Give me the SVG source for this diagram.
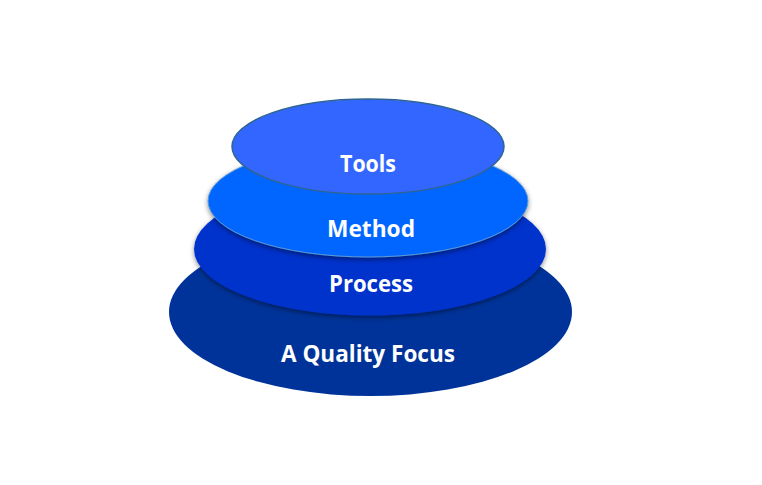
<svg xmlns="http://www.w3.org/2000/svg" width="762" height="485" viewBox="0 0 762 485">
<defs>
<filter id="sh" x="-10%" y="-10%" width="120%" height="130%">
<feGaussianBlur in="SourceAlpha" stdDeviation="2.5"/>
<feOffset dx="0" dy="2" result="b"/>
<feFlood flood-color="#000" flood-opacity="0.45"/>
<feComposite in2="b" operator="in"/>
<feMerge><feMergeNode/><feMergeNode in="SourceGraphic"/></feMerge>
</filter>
</defs>
<style>
.t{font-family:"Open Sans",Lato,"Liberation Sans",sans-serif;font-weight:bold;fill:#fff;text-anchor:middle;font-size:23px}
</style>
<rect width="762" height="485" fill="#fff"/>
<g id="quality">
<ellipse cx="370.5" cy="312" rx="201.5" ry="84" fill="#003399"/>
<text class="t" x="368" y="362" textLength="174" lengthAdjust="spacingAndGlyphs">A Quality Focus</text>
</g>
<g id="process">
<ellipse cx="370" cy="249" rx="176" ry="66.5" fill="#0033CC" filter="url(#sh)"/>
<text class="t" x="371" y="292" textLength="84" lengthAdjust="spacingAndGlyphs">Process</text>
</g>
<g id="method">
<ellipse cx="368" cy="201" rx="160" ry="56" fill="#0066FF" stroke="#5b9bd5" stroke-width="1" filter="url(#sh)"/>
<text class="t" x="371" y="237" textLength="88" lengthAdjust="spacingAndGlyphs">Method</text>
</g>
<g id="tools">
<ellipse cx="368" cy="146.5" rx="136" ry="47.5" fill="#3366FF" stroke="#2f658f" stroke-width="1.5"/>
<text class="t" x="368" y="172" textLength="56" lengthAdjust="spacingAndGlyphs">Tools</text>
</g>
<g id="connectors"/>
</svg>
